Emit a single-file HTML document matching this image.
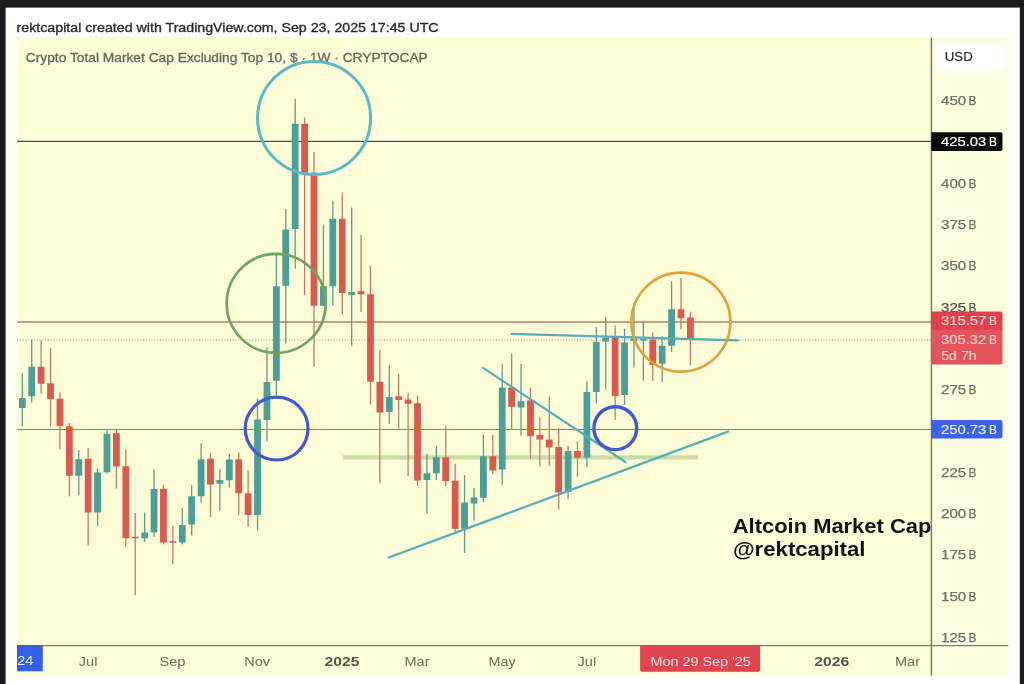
<!DOCTYPE html>
<html><head><meta charset="utf-8"><title>chart</title>
<style>
html,body{margin:0;padding:0;background:#fff;}
body{width:1024px;height:684px;overflow:hidden;position:relative;font-family:"Liberation Sans",sans-serif;}
svg{position:absolute;left:0;top:0;filter:blur(0.4px);}
text{font-family:"Liberation Sans",sans-serif;}
.pl{font-size:13px;fill:#6f6f62;stroke:#6f6f62;stroke-width:0.25px;}
.pw{font-size:13px;fill:#fff;stroke:#fff;stroke-width:0.2px;}
.tl{font-size:13px;fill:#6a6a5e;}
.tb{font-size:13px;fill:#55554c;font-weight:bold;}
</style></head><body>
<svg width="1024" height="684" viewBox="0 0 1024 684">
<rect x="0" y="0" width="1024" height="684" fill="#ffffff"/>
<!-- chart bg -->
<rect x="16.5" y="37" width="992" height="639" fill="#fdfdd8"/>
<rect x="932" y="37" width="76.5" height="639" fill="#fdfddf"/>
<!-- dark frame -->
<rect x="0" y="0" width="1024" height="7.6" fill="#191a1d"/>
<rect x="0" y="0" width="5.6" height="684" fill="#191a1d"/>
<rect x="1019.8" y="0" width="4.4" height="684" fill="#191a1d"/>
<!-- header -->
<text x="16.6" y="31.6" font-size="13.5" fill="#2a2a2e" stroke="#2a2a2e" stroke-width="0.35" textLength="422" lengthAdjust="spacingAndGlyphs">rektcapital created with TradingView.com, Sep 23, 2025 17:45 UTC</text>
<text x="25.8" y="61.9" font-size="13.4" fill="#66665a" stroke="#66665a" stroke-width="0.3" textLength="402" lengthAdjust="spacingAndGlyphs">Crypto Total Market Cap Excluding Top 10, $ · 1W · CRYPTOCAP</text>
<!-- horizontal lines -->
<rect x="17" y="140.8" width="914" height="1.1" fill="#3a3a36"/>
<rect x="17" y="321.5" width="914" height="1.05" fill="#994a42"/>
<rect x="17" y="429" width="914" height="1" fill="#6f80c8"/>
<line x1="17" y1="340" x2="931" y2="340" stroke="#a8a088" stroke-width="1.1" stroke-dasharray="1.2 1.6"/>
<rect x="343" y="455.3" width="355" height="4.2" fill="#c9dca3"/>
<!-- candles -->
<rect x="21.65" y="373.00" width="1.3" height="53.25" fill="#66998c"/>
<rect x="18.90" y="398.00" width="6.8" height="10.00" fill="#4c9e97"/>
<rect x="31.06" y="339.50" width="1.3" height="63.00" fill="#66998c"/>
<rect x="28.31" y="366.75" width="6.8" height="29.50" fill="#4c9e97"/>
<rect x="40.47" y="340.50" width="1.3" height="53.25" fill="#c27c6c"/>
<rect x="37.72" y="366.75" width="6.8" height="17.00" fill="#db5a50"/>
<rect x="49.88" y="348.00" width="1.3" height="78.25" fill="#c27c6c"/>
<rect x="47.13" y="383.25" width="6.8" height="16.00" fill="#db5a50"/>
<rect x="59.29" y="392.50" width="1.3" height="57.00" fill="#c27c6c"/>
<rect x="56.54" y="398.75" width="6.8" height="27.50" fill="#db5a50"/>
<rect x="68.70" y="423.00" width="1.3" height="73.25" fill="#c27c6c"/>
<rect x="65.95" y="426.25" width="6.8" height="49.50" fill="#db5a50"/>
<rect x="78.11" y="450.00" width="1.3" height="45.50" fill="#66998c"/>
<rect x="75.36" y="459.25" width="6.8" height="16.50" fill="#4c9e97"/>
<rect x="87.52" y="448.00" width="1.3" height="97.50" fill="#c27c6c"/>
<rect x="84.77" y="458.75" width="6.8" height="53.75" fill="#db5a50"/>
<rect x="96.93" y="468.50" width="1.3" height="57.25" fill="#66998c"/>
<rect x="94.18" y="472.50" width="6.8" height="40.00" fill="#4c9e97"/>
<rect x="106.34" y="430.00" width="1.3" height="43.50" fill="#66998c"/>
<rect x="103.59" y="433.75" width="6.8" height="38.50" fill="#4c9e97"/>
<rect x="115.75" y="429.25" width="1.3" height="59.50" fill="#c27c6c"/>
<rect x="113.00" y="433.25" width="6.8" height="33.25" fill="#db5a50"/>
<rect x="125.16" y="449.25" width="1.3" height="97.75" fill="#c27c6c"/>
<rect x="122.41" y="466.25" width="6.8" height="72.00" fill="#db5a50"/>
<rect x="134.57" y="513.00" width="1.3" height="82.00" fill="#c27c6c"/>
<rect x="131.82" y="536.75" width="6.8" height="1.50" fill="#db5a50"/>
<rect x="143.98" y="512.50" width="1.3" height="29.50" fill="#66998c"/>
<rect x="141.23" y="532.50" width="6.8" height="5.75" fill="#4c9e97"/>
<rect x="153.39" y="469.50" width="1.3" height="67.50" fill="#66998c"/>
<rect x="150.64" y="489.00" width="6.8" height="43.50" fill="#4c9e97"/>
<rect x="162.80" y="485.00" width="1.3" height="59.50" fill="#c27c6c"/>
<rect x="160.05" y="488.75" width="6.8" height="53.75" fill="#db5a50"/>
<rect x="172.21" y="525.75" width="1.3" height="38.50" fill="#c27c6c"/>
<rect x="169.46" y="541.25" width="6.8" height="1.50" fill="#db5a50"/>
<rect x="181.62" y="508.00" width="1.3" height="36.50" fill="#66998c"/>
<rect x="178.87" y="525.00" width="6.8" height="17.50" fill="#4c9e97"/>
<rect x="191.03" y="485.00" width="1.3" height="50.50" fill="#66998c"/>
<rect x="188.28" y="496.25" width="6.8" height="28.25" fill="#4c9e97"/>
<rect x="200.44" y="443.50" width="1.3" height="59.00" fill="#66998c"/>
<rect x="197.69" y="459.25" width="6.8" height="37.00" fill="#4c9e97"/>
<rect x="209.85" y="453.00" width="1.3" height="64.00" fill="#c27c6c"/>
<rect x="207.10" y="458.75" width="6.8" height="25.75" fill="#db5a50"/>
<rect x="219.26" y="469.00" width="1.3" height="41.75" fill="#66998c"/>
<rect x="216.51" y="480.00" width="6.8" height="3.75" fill="#4c9e97"/>
<rect x="228.67" y="453.75" width="1.3" height="33.75" fill="#66998c"/>
<rect x="225.92" y="459.50" width="6.8" height="20.75" fill="#4c9e97"/>
<rect x="238.08" y="452.50" width="1.3" height="62.50" fill="#c27c6c"/>
<rect x="235.33" y="459.25" width="6.8" height="34.00" fill="#db5a50"/>
<rect x="247.49" y="470.50" width="1.3" height="56.50" fill="#c27c6c"/>
<rect x="244.74" y="493.25" width="6.8" height="21.75" fill="#db5a50"/>
<rect x="256.90" y="398.50" width="1.3" height="132.00" fill="#66998c"/>
<rect x="254.15" y="419.50" width="6.8" height="95.50" fill="#4c9e97"/>
<rect x="266.31" y="347.50" width="1.3" height="93.75" fill="#66998c"/>
<rect x="263.56" y="382.00" width="6.8" height="38.00" fill="#4c9e97"/>
<rect x="275.72" y="253.75" width="1.3" height="141.25" fill="#66998c"/>
<rect x="272.97" y="286.25" width="6.8" height="94.50" fill="#4c9e97"/>
<rect x="285.13" y="208.75" width="1.3" height="135.00" fill="#66998c"/>
<rect x="282.38" y="229.50" width="6.8" height="56.25" fill="#4c9e97"/>
<rect x="294.54" y="98.75" width="1.3" height="170.00" fill="#66998c"/>
<rect x="291.79" y="123.75" width="6.8" height="105.25" fill="#4c9e97"/>
<rect x="303.95" y="117.50" width="1.3" height="177.50" fill="#c27c6c"/>
<rect x="301.20" y="123.75" width="6.8" height="49.25" fill="#db5a50"/>
<rect x="313.36" y="152.00" width="1.3" height="214.75" fill="#c27c6c"/>
<rect x="310.61" y="172.50" width="6.8" height="133.25" fill="#db5a50"/>
<rect x="322.77" y="224.50" width="1.3" height="81.50" fill="#66998c"/>
<rect x="320.02" y="286.25" width="6.8" height="19.50" fill="#4c9e97"/>
<rect x="332.18" y="200.75" width="1.3" height="105.00" fill="#66998c"/>
<rect x="329.43" y="218.75" width="6.8" height="67.50" fill="#4c9e97"/>
<rect x="341.59" y="192.50" width="1.3" height="122.00" fill="#c27c6c"/>
<rect x="338.84" y="218.75" width="6.8" height="74.25" fill="#db5a50"/>
<rect x="351.00" y="207.50" width="1.3" height="138.25" fill="#66998c"/>
<rect x="348.25" y="292.00" width="6.8" height="3.00" fill="#4c9e97"/>
<rect x="360.41" y="235.00" width="1.3" height="77.00" fill="#c27c6c"/>
<rect x="357.66" y="291.25" width="6.8" height="3.00" fill="#db5a50"/>
<rect x="369.82" y="265.75" width="1.3" height="138.75" fill="#c27c6c"/>
<rect x="367.07" y="294.25" width="6.8" height="87.50" fill="#db5a50"/>
<rect x="379.23" y="349.75" width="1.3" height="133.25" fill="#c27c6c"/>
<rect x="376.48" y="381.75" width="6.8" height="30.75" fill="#db5a50"/>
<rect x="388.64" y="365.25" width="1.3" height="58.50" fill="#66998c"/>
<rect x="385.89" y="397.00" width="6.8" height="15.00" fill="#4c9e97"/>
<rect x="398.05" y="373.75" width="1.3" height="54.75" fill="#c27c6c"/>
<rect x="395.30" y="396.25" width="6.8" height="3.75" fill="#db5a50"/>
<rect x="407.46" y="393.00" width="1.3" height="83.00" fill="#c27c6c"/>
<rect x="404.71" y="399.50" width="6.8" height="4.25" fill="#db5a50"/>
<rect x="416.87" y="395.50" width="1.3" height="90.75" fill="#c27c6c"/>
<rect x="414.12" y="403.25" width="6.8" height="77.35" fill="#db5a50"/>
<rect x="426.28" y="454.00" width="1.3" height="59.75" fill="#66998c"/>
<rect x="423.53" y="473.25" width="6.8" height="6.75" fill="#4c9e97"/>
<rect x="435.69" y="446.00" width="1.3" height="34.00" fill="#66998c"/>
<rect x="432.94" y="457.25" width="6.8" height="16.00" fill="#4c9e97"/>
<rect x="445.10" y="426.25" width="1.3" height="60.00" fill="#c27c6c"/>
<rect x="442.35" y="457.25" width="6.8" height="23.75" fill="#db5a50"/>
<rect x="454.51" y="463.75" width="1.3" height="70.00" fill="#c27c6c"/>
<rect x="451.76" y="480.75" width="6.8" height="48.00" fill="#db5a50"/>
<rect x="463.92" y="475.00" width="1.3" height="78.00" fill="#66998c"/>
<rect x="461.17" y="502.50" width="6.8" height="26.25" fill="#4c9e97"/>
<rect x="473.33" y="488.00" width="1.3" height="32.75" fill="#66998c"/>
<rect x="470.58" y="497.50" width="6.8" height="6.00" fill="#4c9e97"/>
<rect x="482.74" y="434.50" width="1.3" height="67.75" fill="#66998c"/>
<rect x="479.99" y="456.25" width="6.8" height="41.50" fill="#4c9e97"/>
<rect x="492.15" y="435.00" width="1.3" height="39.25" fill="#c27c6c"/>
<rect x="489.40" y="456.25" width="6.8" height="14.25" fill="#db5a50"/>
<rect x="501.56" y="364.50" width="1.3" height="120.50" fill="#66998c"/>
<rect x="498.81" y="387.50" width="6.8" height="82.00" fill="#4c9e97"/>
<rect x="510.97" y="353.25" width="1.3" height="76.75" fill="#c27c6c"/>
<rect x="508.22" y="387.50" width="6.8" height="19.25" fill="#db5a50"/>
<rect x="520.38" y="363.75" width="1.3" height="72.00" fill="#66998c"/>
<rect x="517.63" y="401.25" width="6.8" height="6.25" fill="#4c9e97"/>
<rect x="529.79" y="387.50" width="1.3" height="71.75" fill="#c27c6c"/>
<rect x="527.04" y="400.50" width="6.8" height="35.75" fill="#db5a50"/>
<rect x="539.20" y="417.50" width="1.3" height="49.25" fill="#c27c6c"/>
<rect x="536.45" y="435.00" width="6.8" height="4.50" fill="#db5a50"/>
<rect x="548.61" y="396.50" width="1.3" height="69.25" fill="#c27c6c"/>
<rect x="545.86" y="439.60" width="6.8" height="7.90" fill="#db5a50"/>
<rect x="558.02" y="428.00" width="1.3" height="81.50" fill="#c27c6c"/>
<rect x="555.27" y="447.00" width="6.8" height="45.50" fill="#db5a50"/>
<rect x="567.43" y="446.00" width="1.3" height="53.25" fill="#66998c"/>
<rect x="564.68" y="451.00" width="6.8" height="41.00" fill="#4c9e97"/>
<rect x="576.84" y="441.25" width="1.3" height="35.50" fill="#c27c6c"/>
<rect x="574.09" y="451.00" width="6.8" height="6.80" fill="#db5a50"/>
<rect x="586.25" y="381.50" width="1.3" height="85.50" fill="#66998c"/>
<rect x="583.50" y="392.00" width="6.8" height="65.60" fill="#4c9e97"/>
<rect x="595.66" y="327.00" width="1.3" height="76.60" fill="#66998c"/>
<rect x="592.91" y="342.00" width="6.8" height="50.00" fill="#4c9e97"/>
<rect x="605.07" y="317.00" width="1.3" height="72.25" fill="#66998c"/>
<rect x="602.32" y="338.00" width="6.8" height="3.50" fill="#4c9e97"/>
<rect x="614.48" y="325.50" width="1.3" height="94.60" fill="#c27c6c"/>
<rect x="611.73" y="337.50" width="6.8" height="58.60" fill="#db5a50"/>
<rect x="623.89" y="328.75" width="1.3" height="76.00" fill="#66998c"/>
<rect x="621.14" y="342.50" width="6.8" height="52.50" fill="#4c9e97"/>
<rect x="633.30" y="302.50" width="1.3" height="65.00" fill="#66998c"/>
<rect x="630.55" y="338.50" width="6.8" height="2.50" fill="#4c9e97"/>
<rect x="642.71" y="320.75" width="1.3" height="60.00" fill="#66998c"/>
<rect x="639.96" y="338.75" width="6.8" height="1.75" fill="#4c9e97"/>
<rect x="652.12" y="332.50" width="1.3" height="48.25" fill="#c27c6c"/>
<rect x="649.37" y="339.50" width="6.8" height="25.50" fill="#db5a50"/>
<rect x="661.53" y="336.25" width="1.3" height="45.75" fill="#66998c"/>
<rect x="658.78" y="345.75" width="6.8" height="18.00" fill="#4c9e97"/>
<rect x="670.94" y="281.25" width="1.3" height="70.75" fill="#66998c"/>
<rect x="668.19" y="309.25" width="6.8" height="36.50" fill="#4c9e97"/>
<rect x="680.35" y="278.00" width="1.3" height="51.50" fill="#c27c6c"/>
<rect x="677.60" y="309.25" width="6.8" height="9.00" fill="#db5a50"/>
<rect x="689.76" y="311.75" width="1.3" height="53.75" fill="#c27c6c"/>
<rect x="687.01" y="317.50" width="6.8" height="22.00" fill="#db5a50"/>
<!-- trend lines -->
<line x1="388.8" y1="557.5" x2="728" y2="431.6" stroke="#54adbd" stroke-width="2.2" stroke-linecap="round"/>
<line x1="483" y1="367.8" x2="625.5" y2="462" stroke="#54adbd" stroke-width="2.2" stroke-linecap="round"/>
<line x1="511.2" y1="333.8" x2="738" y2="340.3" stroke="#54adbd" stroke-width="2.2" stroke-linecap="round"/>
<!-- circles -->
<circle cx="314.1" cy="118" r="56.5" fill="none" stroke="#5bb9c9" stroke-width="3"/>
<circle cx="276.2" cy="303.4" r="49.5" fill="none" stroke="#6ea65d" stroke-width="2.7"/>
<circle cx="276.6" cy="428.6" r="31.4" fill="none" stroke="#4457d3" stroke-width="3.2"/>
<circle cx="615.3" cy="428.2" r="21.4" fill="none" stroke="#4457d3" stroke-width="3.4"/>
<circle cx="680.9" cy="322.1" r="49.5" fill="none" stroke="#dfa33e" stroke-width="2.7"/>
<!-- axes -->
<rect x="930.7" y="37.5" width="1.4" height="638" fill="#78785f"/>
<rect x="17" y="645" width="991.5" height="1.2" fill="#78785f"/>
<!-- USD box -->
<rect x="936" y="43.6" width="68.4" height="27.1" rx="4" fill="#ffffff"/>
<text x="944.8" y="61" font-size="12.8" fill="#2c2c2c" stroke="#2c2c2c" stroke-width="0.2" textLength="28" lengthAdjust="spacingAndGlyphs">USD</text>
<text x="941.0" y="105.2" class="pl" textLength="25.3" lengthAdjust="spacingAndGlyphs">450</text><text x="968.5" y="105.2" class="pl" textLength="7.9" lengthAdjust="spacingAndGlyphs">B</text>
<text x="941.0" y="187.8" class="pl" textLength="25.3" lengthAdjust="spacingAndGlyphs">400</text><text x="968.5" y="187.8" class="pl" textLength="7.9" lengthAdjust="spacingAndGlyphs">B</text>
<text x="941.0" y="229.1" class="pl" textLength="25.3" lengthAdjust="spacingAndGlyphs">375</text><text x="968.5" y="229.1" class="pl" textLength="7.9" lengthAdjust="spacingAndGlyphs">B</text>
<text x="941.0" y="270.4" class="pl" textLength="25.3" lengthAdjust="spacingAndGlyphs">350</text><text x="968.5" y="270.4" class="pl" textLength="7.9" lengthAdjust="spacingAndGlyphs">B</text>
<text x="941.0" y="311.6" class="pl" textLength="25.3" lengthAdjust="spacingAndGlyphs" style="fill:#52524a;stroke:#52524a">325</text><text x="968.5" y="311.6" class="pl" textLength="7.9" lengthAdjust="spacingAndGlyphs" style="fill:#52524a;stroke:#52524a">B</text>
<text x="941.0" y="394.2" class="pl" textLength="25.3" lengthAdjust="spacingAndGlyphs">275</text><text x="968.5" y="394.2" class="pl" textLength="7.9" lengthAdjust="spacingAndGlyphs">B</text>
<text x="941.0" y="476.8" class="pl" textLength="25.3" lengthAdjust="spacingAndGlyphs">225</text><text x="968.5" y="476.8" class="pl" textLength="7.9" lengthAdjust="spacingAndGlyphs">B</text>
<text x="941.0" y="518.1" class="pl" textLength="25.3" lengthAdjust="spacingAndGlyphs">200</text><text x="968.5" y="518.1" class="pl" textLength="7.9" lengthAdjust="spacingAndGlyphs">B</text>
<text x="941.0" y="559.4" class="pl" textLength="25.3" lengthAdjust="spacingAndGlyphs">175</text><text x="968.5" y="559.4" class="pl" textLength="7.9" lengthAdjust="spacingAndGlyphs">B</text>
<text x="941.0" y="600.7" class="pl" textLength="25.3" lengthAdjust="spacingAndGlyphs">150</text><text x="968.5" y="600.7" class="pl" textLength="7.9" lengthAdjust="spacingAndGlyphs">B</text>
<text x="941.0" y="642.0" class="pl" textLength="25.3" lengthAdjust="spacingAndGlyphs">125</text><text x="968.5" y="642.0" class="pl" textLength="7.9" lengthAdjust="spacingAndGlyphs">B</text>
<!-- price tags -->
<path d="M931.3 132.2 H1000.5 a2 2 0 0 1 2 2 V148.9 a2 2 0 0 1 -2 2 H931.3 Z" fill="#0a0a0a"/>
<text x="941.0" y="146.2" class="pw" textLength="45.3" lengthAdjust="spacingAndGlyphs">425.03</text><text x="988.9" y="146.2" class="pw" textLength="7.9" lengthAdjust="spacingAndGlyphs">B</text>
<path d="M931.3 311.4 H1000.5 a2 2 0 0 1 2 2 V330.1 H931.3 Z" fill="#e0414c"/>
<path d="M931.3 330.1 H1002.5 V362.4 a2 2 0 0 1 -2 2 H931.3 Z" fill="#e2545a"/>
<text x="941.0" y="325.1" class="pw" textLength="45.3" lengthAdjust="spacingAndGlyphs" style="fill:#ffcfd0;stroke:#ffcfd0">315.57</text><text x="988.9" y="325.1" class="pw" textLength="7.9" lengthAdjust="spacingAndGlyphs" style="fill:#ffcfd0;stroke:#ffcfd0">B</text>
<text x="941.0" y="343.9" class="pw" textLength="45.3" lengthAdjust="spacingAndGlyphs" style="fill:#ffc9ca;stroke:#ffc9ca">305.32</text><text x="988.9" y="343.9" class="pw" textLength="7.9" lengthAdjust="spacingAndGlyphs" style="fill:#ffc9ca;stroke:#ffc9ca">B</text>
<text x="941.2" y="359.8" class="pw" style="fill:#ffc9ca;stroke:#ffc9ca" textLength="35.5" lengthAdjust="spacingAndGlyphs">5d 7h</text>
<path d="M931.3 420 H1000.5 a2 2 0 0 1 2 2 V436.6 a2 2 0 0 1 -2 2 H931.3 Z" fill="#3b63ea"/>
<text x="941.0" y="434.1" class="pw" textLength="45.3" lengthAdjust="spacingAndGlyphs" style="fill:#e6ecff;stroke:#e6ecff">250.73</text><text x="988.9" y="434.1" class="pw" textLength="7.9" lengthAdjust="spacingAndGlyphs" style="fill:#e6ecff;stroke:#e6ecff">B</text>
<!-- time axis -->
<rect x="17" y="645" width="25.8" height="26.3" fill="#3561ea"/>
<text x="17.2" y="665" font-size="13" fill="#e8ecff" textLength="16" lengthAdjust="spacingAndGlyphs">24</text>
<text x="78.8" y="666.2" class="tl" textLength="18.6" lengthAdjust="spacingAndGlyphs">Jul</text>
<text x="159.5" y="666.2" class="tl" textLength="26" lengthAdjust="spacingAndGlyphs">Sep</text>
<text x="244.2" y="666.2" class="tl" textLength="26" lengthAdjust="spacingAndGlyphs">Nov</text>
<text x="324.5" y="666.2" class="tb" textLength="35" lengthAdjust="spacingAndGlyphs">2025</text>
<text x="404.5" y="666.2" class="tl" textLength="25" lengthAdjust="spacingAndGlyphs">Mar</text>
<text x="488.6" y="666.2" class="tl" textLength="27" lengthAdjust="spacingAndGlyphs">May</text>
<text x="577.6" y="666.2" class="tl" textLength="18.6" lengthAdjust="spacingAndGlyphs">Jul</text>
<text x="814.2" y="666.2" class="tb" textLength="35" lengthAdjust="spacingAndGlyphs">2026</text>
<text x="895.0" y="666.2" class="tl" textLength="25" lengthAdjust="spacingAndGlyphs">Mar</text>
<path d="M640.1 645.5 H760.1 V669.75 a2 2 0 0 1 -2 2 H642.1 a2 2 0 0 1 -2 -2 Z" fill="#e0444e"/>
<text x="650.4" y="666.2" font-size="13" fill="#ffe0e1" textLength="100.5" lengthAdjust="spacingAndGlyphs">Mon 29 Sep '25</text>
<!-- annotation -->
<text x="732.8" y="533" font-size="20.6" font-weight="bold" fill="#121212" textLength="198.5" lengthAdjust="spacingAndGlyphs">Altcoin Market Cap</text>
<text x="733" y="555.5" font-size="20.6" font-weight="bold" fill="#121212" textLength="132.5" lengthAdjust="spacingAndGlyphs">@rektcapital</text>
</svg>
</body></html>
